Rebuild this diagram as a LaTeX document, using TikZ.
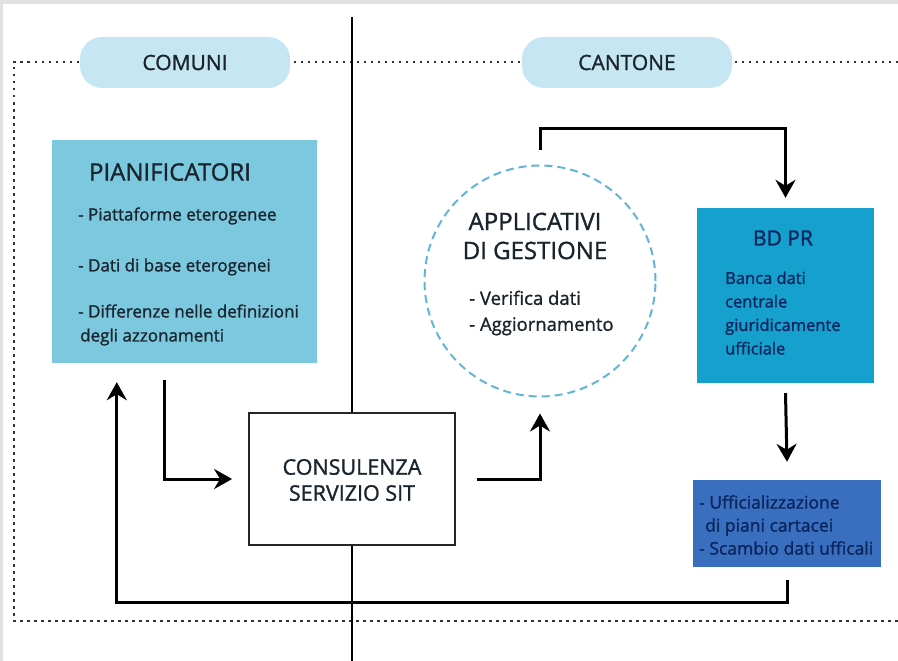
\documentclass[tikz,border=0pt]{standalone}
\usepackage{fontspec}
\setmainfont{Open Sans}[BoldFont={Open Sans},BoldFeatures={FakeBold=1.2}]
\usetikzlibrary{arrows.meta,positioning}
\definecolor{framegrey}{RGB}{226,226,226}
\definecolor{pillblue}{RGB}{197,230,242}
\definecolor{planblue}{RGB}{124,201,223}
\definecolor{bdblue}{RGB}{22,160,205}
\definecolor{uffblue}{RGB}{58,110,190}
\definecolor{circblue}{RGB}{100,180,212}
\definecolor{inkdark}{RGB}{26,36,44}
\definecolor{inknavy}{RGB}{10,36,92}
\tikzstyle{arrow} = [line width=3pt,-{Stealth[length=18pt,width=20pt,inset=6pt]},draw=black]
\tikzstyle{pill} = [rectangle,rounded corners=22pt,fill=pillblue,minimum width=210pt,minimum height=51pt,text=inkdark,font=\fontsize{21}{24}\selectfont\bfseries]
\tikzstyle{panel} = [rectangle,inner sep=0pt]
\tikzstyle{head} = [inner sep=0pt,text=inkdark,font=\fontsize{21.5}{26}\selectfont\bfseries,align=center]
\tikzstyle{item} = [inner sep=0pt,anchor=west,text=inkdark,font=\fontsize{17}{24}\selectfont\bfseries,align=left]

\begin{document}
\begin{tikzpicture}[x=1pt,y=-1pt]
\useasboundingbox (0,0) rectangle (898,661);
\fill[framegrey] (0,0) rectangle (898,4);
\fill[framegrey] (0,0) rectangle (3,661);

% dotted frame
\draw[gray!40!black,line width=2.4pt,dash pattern=on 2.5pt off 4.5pt] (898,62) -- (14,62) -- (14,621) -- (898,621);

% divider
\coordinate (divtop) at (352,17);
\coordinate (divbot) at (352,661);
\draw[line width=1.8pt] (divtop) -- (divbot);

\node (comuni) [pill] at (185,62.5) {COMUNI};
\node (cantone) [pill] at (627,62.5) {CANTONE};

% comuni side
\node (pian) [panel,fill=planblue,minimum width=265pt,minimum height=223pt] at (184.5,251.5) {};
\node (piantitle) [head,font=\fontsize{24}{28}\selectfont\bfseries] at (170,172) {PIANIFICATORI};
\node (pianA) [item] at (78,216) {- Piattaforme eterogenee};
\node (pianB) [item] at (78,267) {- Dati di base eterogenei};
\node (pianC) [item] at (78,325) {- Differenze nelle definizioni\\\hspace{2pt}degli azzonamenti};

\node (cons) [panel,draw=black!85,line width=1.8pt,fill=white,minimum width=206pt,minimum height=132pt] at (352,479) {};
\node (constext) [head] at (352,480) {CONSULENZA\\SERVIZIO SIT};

% cantone side
\node (appl) [circle,draw=circblue,line width=2pt,dash pattern=on 8pt off 5pt,minimum size=231pt] at (540,281) {};
\node (appltitle) [head,font=\fontsize{24}{29}\selectfont\bfseries] at (535,236) {APPLICATIVI\\DI GESTIONE};
\node (applitems) [item,font=\fontsize{18.5}{26}\selectfont\bfseries] at (469,313) {- Verifica dati\\- Aggiornamento};

\node (bd) [panel,fill=bdblue,minimum width=177pt,minimum height=175pt] at (785.5,295.5) {};
\node (bdtitle) [head,text=inknavy,font=\fontsize{21}{26}\selectfont\bfseries] at (783,238) {BD PR};
\node (bdtext) [item,text=inknavy,font=\fontsize{16.5}{23.5}\selectfont\bfseries] at (725,313) {Banca dati\\centrale\\giuridicamente\\ufficiale};

\node (uff) [panel,fill=uffblue,minimum width=188pt,minimum height=87pt] at (787,523.5) {};
\node (ufftext) [item,text=inknavy,font=\fontsize{17.5}{23}\selectfont\bfseries] at (699,525) {- Ufficializzazione\\\hspace{6pt}di piani cartacei\\- Scambio dati ufficali};

% arrows
\draw[arrow] ([xshift=-20.5pt,yshift=-17pt]pian.south) |- ([xshift=-16pt]cons.west);
\draw[arrow] ([xshift=21pt]cons.east) -| ([yshift=-16pt]appl.south);
\draw[arrow] ([yshift=15pt]appl.north) -- ++(0,-21) -| ([yshift=10pt]bd.north);
\draw[arrow] ([yshift=-10pt]bd.south) -- ([yshift=18pt]uff.north);
\draw[arrow] ([yshift=-13pt]uff.south) -- ++(0,22) -| ([xshift=65pt,yshift=-19pt]pian.south west);
\end{tikzpicture}
\end{document}
